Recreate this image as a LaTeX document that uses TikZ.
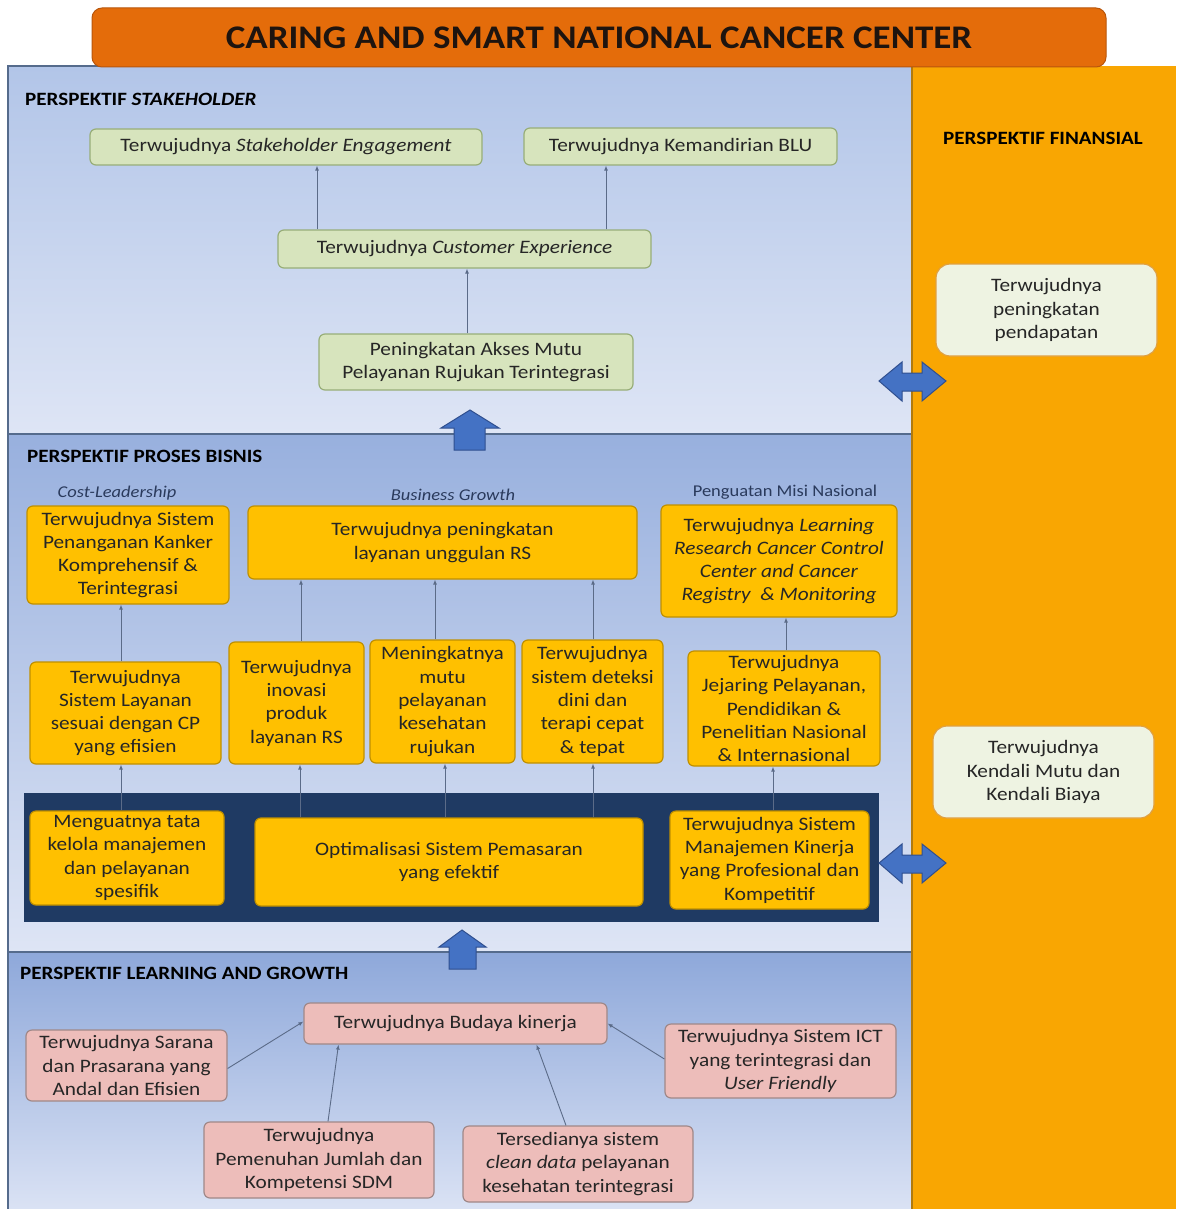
\documentclass[tikz,border=0pt]{standalone}
\usepackage{fontspec}
\setmainfont{Carlito}[FakeStretch=1.12]
\usetikzlibrary{arrows.meta,calc}
\definecolor{titleor}{HTML}{E46C0A}
\definecolor{titleed}{HTML}{B8560C}
\definecolor{finor}{HTML}{F9A602}
\definecolor{finedge}{HTML}{B07A10}
\definecolor{greenfill}{HTML}{D7E4BD}
\definecolor{greenedge}{HTML}{98AE78}
\definecolor{goldfill}{HTML}{FFC000}
\definecolor{goldedge}{HTML}{C09000}
\definecolor{pinkfill}{HTML}{EDBDBA}
\definecolor{pinkedge}{HTML}{A08888}
\definecolor{creamfill}{HTML}{EEF3E2}
\definecolor{creamedge}{HTML}{E0A040}
\definecolor{navy}{HTML}{1F3A63}
\definecolor{blockblue}{HTML}{4472C4}
\definecolor{blockedge}{HTML}{2F4F8F}
\definecolor{connc}{HTML}{5B6B88}
\definecolor{sepline}{HTML}{556B8C}
\definecolor{txt}{HTML}{262626}
\definecolor{lbl}{HTML}{2A3A5C}
\begin{document}
\begin{tikzpicture}[x=1pt,y=-1pt,
  boxbase/.style={rounded corners=6pt, inner sep=0pt, align=center, text=txt,
     font=\fontsize{19}{23.3}\selectfont, line width=1.2pt},
  greenbox/.style={boxbase, fill=greenfill, draw=greenedge},
  goldbox/.style={boxbase, fill=goldfill, draw=goldedge},
  pinkbox/.style={boxbase, fill=pinkfill, draw=pinkedge},
  creambox/.style={boxbase, rounded corners=14pt, fill=creamfill, draw=creamedge},
  conn/.style={draw=connc, line width=0.9pt, -{Latex[length=5pt,width=4pt]}},
  heading/.style={font=\fontsize{18.8}{22}\selectfont\bfseries, text=black, inner sep=0pt},
  sublabel/.style={font=\fontsize{16.5}{19}\selectfont, text=lbl, inner sep=0pt},
  blockarrow/.style={fill=blockblue, draw=blockedge, line width=1pt, line join=miter}
]
\useasboundingbox (0,0) rectangle (1176,1209);
\fill[white] (0,0) rectangle (1176,1209);

% section panels
\shade[top color={rgb,255:red,178;green,197;blue,232}, bottom color={rgb,255:red,222;green,229;blue,245}] (8,66) rectangle (912,434);
\shade[top color={rgb,255:red,152;green,176;blue,222}, bottom color={rgb,255:red,222;green,229;blue,245}] (8,434) rectangle (912,952);
\shade[top color={rgb,255:red,142;green,168;blue,218}, bottom color={rgb,255:red,218;green,226;blue,244}] (8,952) rectangle (912,1209);
\draw[sepline, line width=1.3pt] (8,1209) -- (8,66) -- (912,66);
\draw[sepline, line width=2pt] (8,434) -- (912,434);
\draw[sepline, line width=2pt] (8,952) -- (912,952);

% financial panel
\fill[finor] (912,66) rectangle (1176,1209);
\draw[finedge, line width=1.5pt] (912,66) -- (912,1209);

% title
\node[rounded corners=10pt, fill=titleor, draw=titleed, line width=1pt, minimum width=1014pt, minimum height=59pt, inner sep=0pt,
  font=\fontsize{33}{36}\selectfont\bfseries, text={rgb,255:red,30;green,20;blue,15}] (title) at (599,37.5) {CARING AND SMART NATIONAL CANCER CENTER};

% headings
\node[heading, anchor=west] (hst) at (25,99) {PERSPEKTIF \textit{STAKEHOLDER}};
\node[heading] (hfin) at (1043,138) {PERSPEKTIF FINANSIAL};
\node[heading, anchor=west] (hpb) at (27,456) {PERSPEKTIF PROSES BISNIS};
\node[heading, anchor=west] (hlg) at (20,973) {PERSPEKTIF LEARNING AND GROWTH};

% stakeholder boxes
\node[greenbox, minimum width=392pt, minimum height=36pt] (SE) at (286,147) {Terwujudnya \textit{Stakeholder Engagement}};
\node[greenbox, minimum width=313pt, minimum height=37pt] (BLU) at (680.5,146.5) {Terwujudnya Kemandirian BLU};
\node[greenbox, minimum width=373pt, minimum height=38pt] (CE) at (464.5,249) {Terwujudnya \textit{Customer Experience}};
\node[greenbox, minimum width=314pt, minimum height=56pt] (PA) at (476,362) {Peningkatan Akses Mutu\\Pelayanan Rujukan Terintegrasi};

\draw[conn] ([xshift=-147.5pt]CE.north) -- ([xshift=-147.5pt]CE.north |- SE.south);
\draw[conn] ([xshift=141.5pt]CE.north) -- ([xshift=141.5pt]CE.north |- BLU.south);
\draw[conn] ([xshift=-9pt]PA.north) -- ([xshift=-9pt]PA.north |- CE.south);

% financial boxes
\node[creambox, minimum width=221pt, minimum height=92pt] (FP) at (1046.5,310) {Terwujudnya\\peningkatan\\pendapatan};
\node[creambox, minimum width=221pt, minimum height=92pt] (FK) at (1043.5,772) {Terwujudnya\\Kendali Mutu dan\\Kendali Biaya};

% process labels
\node[sublabel] (lcl) at (117,493) {\textit{Cost-Leadership}};
\node[sublabel] (lbg) at (453,495) {\textit{Business Growth}};
\node[sublabel] (lpm) at (785,492) {Penguatan Misi Nasional};

% navy band
\fill[navy] (24,793) rectangle (879,922);

% process boxes
\node[goldbox, minimum width=202pt, minimum height=98pt] (A1) at (128,555) {Terwujudnya Sistem\\Penanganan Kanker\\Komprehensif \&\\Terintegrasi};
\node[goldbox, minimum width=389pt, minimum height=73pt] (B1) at (442.5,542.5) {Terwujudnya peningkatan\\layanan unggulan RS};
\node[goldbox, minimum width=236pt, minimum height=112pt] (C1) at (779,561) {Terwujudnya \textit{Learning}\\\textit{Research Cancer Control}\\\textit{Center and Cancer}\\\textit{Registry \ \& Monitoring}};
\node[goldbox, minimum width=191pt, minimum height=102pt] (A2) at (125.5,713) {Terwujudnya\\Sistem Layanan\\sesuai dengan CP\\yang efisien};
\node[goldbox, minimum width=135pt, minimum height=122pt] (B2a) at (296.5,703) {Terwujudnya\\inovasi\\produk\\layanan RS};
\node[goldbox, minimum width=145pt, minimum height=123pt] (B2b) at (442.5,701.5) {Meningkatnya\\mutu\\pelayanan\\kesehatan\\rujukan};
\node[goldbox, minimum width=141pt, minimum height=123pt] (B2c) at (592.5,701.5) {Terwujudnya\\sistem deteksi\\dini dan\\terapi cepat\\\& tepat};
\node[goldbox, minimum width=192pt, minimum height=115pt] (C2) at (784,708.5) {Terwujudnya\\Jejaring Pelayanan,\\Pendidikan \&\\Penelitian Nasional\\\& Internasional};
\node[goldbox, minimum width=194pt, minimum height=94pt] (A3) at (127,858) {Menguatnya tata\\kelola manajemen\\dan pelayanan\\spesifik};
\node[goldbox, minimum width=388pt, minimum height=88pt] (B3) at (449,862) {Optimalisasi Sistem Pemasaran\\yang efektif};
\node[goldbox, minimum width=199pt, minimum height=98pt] (C3) at (769.5,860) {Terwujudnya Sistem\\Manajemen Kinerja\\yang Profesional dan\\Kompetitif};

\draw[conn] ([xshift=-4.5pt]A2.north) -- ([xshift=-4.5pt]A2.north |- A1.south);
\draw[conn] ([xshift=-6pt]A3.north) -- ([xshift=-6pt]A3.north |- A2.south);
\draw[conn] ([xshift=4.5pt]B2a.north) -- ([xshift=4.5pt]B2a.north |- B1.south);
\draw[conn] ([xshift=-7.5pt]B2b.north) -- ([xshift=-7.5pt]B2b.north |- B1.south);
\draw[conn] ([xshift=0.5pt]B2c.north) -- ([xshift=0.5pt]B2c.north |- B1.south);
\draw[conn] ([xshift=-149pt]B3.north) -- ([xshift=-149pt]B3.north |- B2a.south);
\draw[conn] ([xshift=-4pt]B3.north) -- ([xshift=-4pt]B3.north |- B2b.south);
\draw[conn] ([xshift=144pt]B3.north) -- ([xshift=144pt]B3.north |- B2c.south);
\draw[conn] ([xshift=2pt]C2.north) -- ([xshift=2pt]C2.north |- C1.south);
\draw[conn] ([xshift=3.5pt]C3.north) -- ([xshift=3.5pt]C3.north |- C2.south);

% learning boxes
\node[pinkbox, minimum width=303pt, minimum height=41pt] (BK) at (455.5,1023.5) {Terwujudnya Budaya kinerja};
\node[pinkbox, minimum width=201pt, minimum height=71pt] (L1) at (126.5,1065.5) {Terwujudnya Sarana\\dan Prasarana yang\\Andal dan Efisien};
\node[pinkbox, minimum width=230pt, minimum height=76pt] (L2) at (319,1160) {Terwujudnya\\Pemenuhan Jumlah dan\\Kompetensi SDM};
\node[pinkbox, minimum width=230pt, minimum height=76pt] (L3) at (578,1164) {Tersedianya sistem\\\textit{clean data} pelayanan\\kesehatan terintegrasi};
\node[pinkbox, minimum width=231pt, minimum height=74pt] (L4) at (780.5,1061) {Terwujudnya Sistem ICT\\yang terintegrasi dan\\\textit{User Friendly}};

\draw[conn] ([yshift=-3pt]L1.east) -- ([yshift=2pt]BK.west);
\draw[conn] ([xshift=9pt]L2.north) -- ([xshift=-117pt]BK.south);
\draw[conn] ([xshift=-12pt]L3.north) -- ([xshift=81pt]BK.south);
\draw[conn] ([yshift=2pt]L4.west) -- (BK.east);

% block arrows up
\path[blockarrow] (470,410) -- (499,428) -- (485,428) -- (485,450) -- (454,450) -- (454,428) -- (441,428) -- cycle;
\path[blockarrow] (462,930) -- (486,947) -- (476,947) -- (476,969) -- (449,969) -- (449,947) -- (439,947) -- cycle;

% double arrows
\path[blockarrow] (879,381) -- (902,362) -- (902,373) -- (922,373) -- (922,362) -- (946,381) -- (922,401) -- (922,391) -- (902,391) -- (902,401) -- cycle;
\path[blockarrow] (879,863) -- (902,844) -- (902,855) -- (922,855) -- (922,844) -- (946,863) -- (922,883) -- (922,873) -- (902,873) -- (902,883) -- cycle;
\end{tikzpicture}
\end{document}
